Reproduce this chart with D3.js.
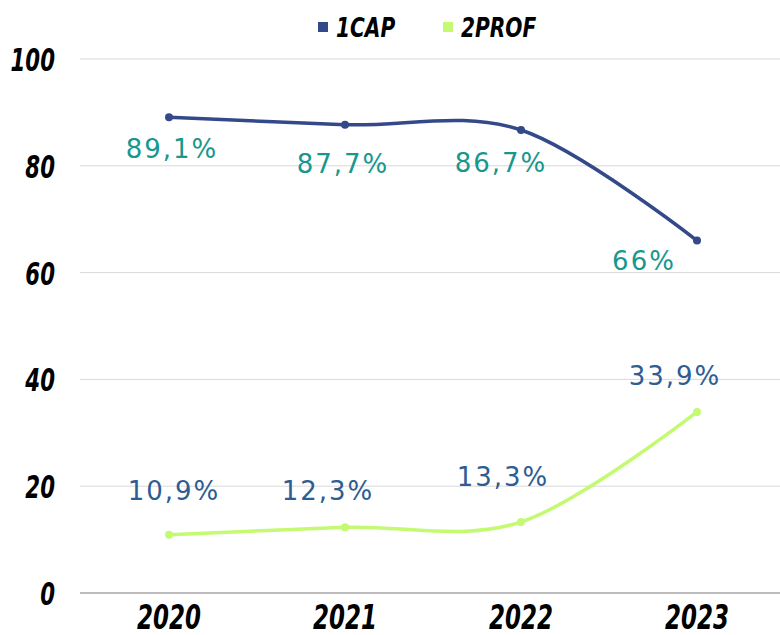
<!DOCTYPE html>
<html><head><meta charset="utf-8">
<script src="https://cdn.jsdelivr.net/npm/d3@7"></script>
<style>body{margin:0;background:#fff}</style>
</head><body>
<svg id="c" width="780" height="635"></svg>
<script>
const years = ["2020","2021","2022","2023"];
const cap = [89.1, 87.7, 86.7, 66];
const prof = [10.9, 12.3, 13.3, 33.9];
const capLabels = ["89,1%","87,7%","86,7%","66%"];
const profLabels = ["10,9%","12,3%","13,3%","33,9%"];
const yTicks = [0,20,40,60,80,100];
const seriesNames = ["1CAP","2PROF"];

const svg = d3.select("#c");
const x = d3.scalePoint().domain(years).range([169,697]);
const y = d3.scaleLinear().domain([0,100]).range([593,59]);
const axisFont = "'DejaVu Sans Condensed','DejaVu Sans',sans-serif";
const labelFont = "'DejaVu Sans',sans-serif";

function boldText(sel){
  return sel.style("font-family",axisFont).style("font-weight","bold").style("font-style","italic").attr("fill","#000");
}

// gridlines
svg.append("g").selectAll("line").data(yTicks).join("line")
  .attr("x1",80).attr("x2",780)
  .attr("y1",d=>y(d)).attr("y2",d=>y(d))
  .attr("stroke",d=>d===0?"#a6a6a6":"#d9d9d9").attr("stroke-width",d=>d===0?1.5:1);

// y tick labels
boldText(svg.append("g").selectAll("text").data(yTicks).join("text")
  .attr("transform",d=>`translate(55,${y(d)+12}) scale(0.74,1)`)
  .attr("text-anchor","end")
  .style("font-size","32px")).text(d=>d);

// x tick labels
boldText(svg.append("g").selectAll("text").data(years).join("text")
  .attr("transform",d=>`translate(${x(d)},629) scale(0.75,1)`)
  .attr("text-anchor","middle")
  .style("font-size","34px")).text(d=>d);

const line = d3.line().x((d,i)=>x(years[i])).y(d=>y(d)).curve(d3.curveCardinal.tension(0));

function drawSeries(vals,color){
  svg.append("path").datum(vals).attr("d",line)
    .attr("fill","none").attr("stroke",color).attr("stroke-width",3.5).attr("stroke-linecap","round");
  svg.append("g").selectAll("circle").data(vals).join("circle")
    .attr("cx",(d,i)=>x(years[i])).attr("cy",d=>y(d)).attr("r",4).attr("fill",color);
}
drawSeries(cap,"#34498a");
drawSeries(prof,"#c4fa72");

// data labels
const capOff = [[3,41],[-2,48],[-20,42],[-53,29]];
const profOff = [[5,-35],[-17,-27],[-18,-36],[-22,-27]];
function drawLabels(vals,labels,offs,color){
  svg.append("g").selectAll("text").data(vals).join("text")
    .attr("x",(d,i)=>x(years[i])+offs[i][0]).attr("y",(d,i)=>y(d)+offs[i][1])
    .attr("text-anchor","middle")
    .style("font-family",labelFont).style("font-size","26px").style("letter-spacing","2px")
    .attr("fill",color).text((d,i)=>labels[i]);
}
drawLabels(cap,capLabels,capOff,"#18978f");
drawLabels(prof,profLabels,profOff,"#2e5d93");

// legend
const leg = svg.append("g");
const legColors = ["#34498a","#c4fa72"];
const legX = [318,443];
seriesNames.forEach((n,i)=>{
  leg.append("rect").attr("x",legX[i]).attr("y",22).attr("width",10).attr("height",10).attr("fill",legColors[i]);
  boldText(leg.append("text").attr("transform",`translate(${legX[i]+18},37) scale(0.83,1)`)
    .style("font-size","27px")).text(n);
});
</script>
</body></html>
